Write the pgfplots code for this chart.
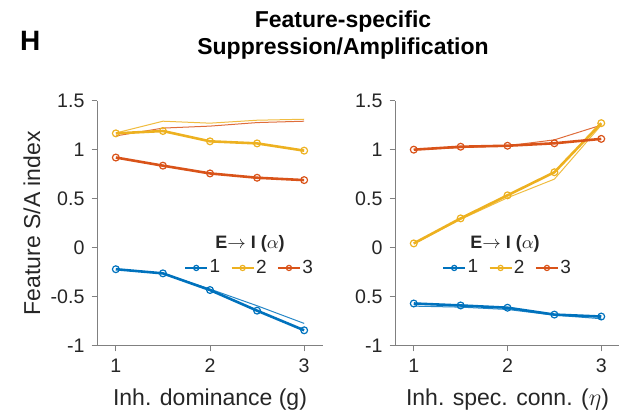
\documentclass[border=0pt]{standalone}
\usepackage{pgfplots}
\pgfplotsset{compat=1.18}
\usepackage{fontspec}
\setmainfont{Liberation Sans}
\definecolor{cblue}{HTML}{0072BD}
\definecolor{cyel}{HTML}{EDB120}
\definecolor{cred}{HTML}{D95319}
\definecolor{axgray}{HTML}{808080}
\definecolor{txtgray}{HTML}{262626}
\pgfplotsset{
  legend image code/.code={
      \draw[#1, line width=1.2pt] (0pt,0pt) -- (11pt,0pt);
      \draw[#1, line width=0.6pt, mark size=1.3pt] plot coordinates {(5.5pt,0pt)};},
  myax/.style={
    scale only axis, height=122.7pt,
    xmin=0.8, xmax=3.2, ymin=-1, ymax=1.5,
    axis x line*=bottom, axis y line*=left,
    x axis line style={-}, y axis line style={-},
    axis line style={color=axgray, line width=0.5pt},
    tick style={color=axgray, line width=0.5pt},
    tick align=outside, major tick length=2.75pt,
    xtick={1,2,3}, ytick={-1,-0.5,0,0.5,1,1.5},
    ticklabel style={font=\fontsize{9.8}{11}\selectfont, color=txtgray},
    /pgf/number format/assume math mode=true,
    label style={font=\fontsize{11.5}{13}\selectfont, color=txtgray},
    clip=false,
    legend columns=3,
    legend style={draw=none, fill=none, font=\fontsize{9.5}{11}\selectfont, text=txtgray,
      nodes={inner sep=0.6pt},
      /tikz/every even column/.append style={column sep=4.5pt}, inner sep=0pt,
      /tikz/every odd column/.append style={column sep=0pt}},
  },
  mythick/.style={line width=1.3pt, mark=o, mark size=1.7pt, mark options={line width=0.6pt, fill=white, solid}},
  mythin/.style={line width=0.5pt, forget plot, opacity=0.85},
}
\begin{document}
\begin{tikzpicture}
\useasboundingbox (0,0) rectangle (309.5pt,205pt);
\node[anchor=base west, font=\fontsize{14}{16}\selectfont\bfseries] at (6.5pt,179.5pt) {H};
\node[anchor=base, font=\fontsize{11.5}{13}\selectfont\bfseries] at (171.5pt,191pt) {Feature-specific};
\node[anchor=base, font=\fontsize{11.5}{13}\selectfont\bfseries] at (171.5pt,177.5pt) {Suppression/Amplification};

\begin{axis}[myax, width=113pt, at={(48.5pt,32pt)}, anchor=south west,
  xlabel={Inh. dominance (g)},
  xlabel style={at={(rel axis cs:0.5,-0.2405)}, anchor=base},
  ylabel={Feature S/A index},
  ylabel style={at={(rel axis cs:-0.288,0.5)}, anchor=center},
  legend style={at={(rel axis cs:0.673,0.318)}, anchor=center}]
\addplot[mythin, color=cblue] coordinates {(1,-0.22)(1.5,-0.26)(2,-0.42)(2.5,-0.59)(3,-0.77)};
\addplot[mythin, color=cyel] coordinates {(1,1.17)(1.5,1.29)(2,1.27)(2.5,1.30)(3,1.31)};
\addplot[mythin, color=cred] coordinates {(1,1.14)(1.5,1.22)(2,1.24)(2.5,1.276)(3,1.29)};
\addplot[mythick, color=cblue] coordinates {(1,-0.218)(1.5,-0.26)(2,-0.43)(2.5,-0.64)(3,-0.84)};
\addplot[mythick, color=cyel] coordinates {(1,1.166)(1.5,1.19)(2,1.085)(2.5,1.064)(3,0.99)};
\addplot[mythick, color=cred] coordinates {(1,0.92)(1.5,0.837)(2,0.758)(2.5,0.714)(3,0.69)};
\legend{1,2,3}
\node[font=\fontsize{9}{10}\selectfont\bfseries, text=txtgray] at (rel axis cs:0.677,0.418) {E$\rightarrow$ I ($\alpha$)};
\end{axis}

\begin{axis}[myax, width=112.5pt, at={(197.5pt,32pt)}, anchor=south west,
  yticklabels={-1,0.5,0,0.5,1,1.5},
  xlabel={Inh. spec. conn. ($\eta$)},
  xlabel style={at={(rel axis cs:0.5,-0.2405)}, anchor=base},
  legend style={at={(rel axis cs:0.498,0.318)}, anchor=center}]
\addplot[mythin, color=cblue] coordinates {(1,-0.594)(1.5,-0.604)(2,-0.628)(2.5,-0.686)(3,-0.722)};
\addplot[mythin, color=cyel] coordinates {(1,0.04)(1.5,0.29)(2,0.51)(2.5,0.70)(3,1.25)};
\addplot[mythin, color=cred] coordinates {(1,1.0)(1.5,1.02)(2,1.04)(2.5,1.10)(3,1.25)};
\addplot[mythick, color=cblue] coordinates {(1,-0.567)(1.5,-0.587)(2,-0.61)(2.5,-0.68)(3,-0.70)};
\addplot[mythick, color=cyel] coordinates {(1,0.045)(1.5,0.30)(2,0.535)(2.5,0.77)(3,1.27)};
\addplot[mythick, color=cred] coordinates {(1,1.0)(1.5,1.03)(2,1.04)(2.5,1.065)(3,1.11)};
\legend{1,2,3}
\node[font=\fontsize{9}{10}\selectfont\bfseries, text=txtgray] at (rel axis cs:0.489,0.418) {E$\rightarrow$ I ($\alpha$)};
\end{axis}
\end{tikzpicture}
\end{document}
